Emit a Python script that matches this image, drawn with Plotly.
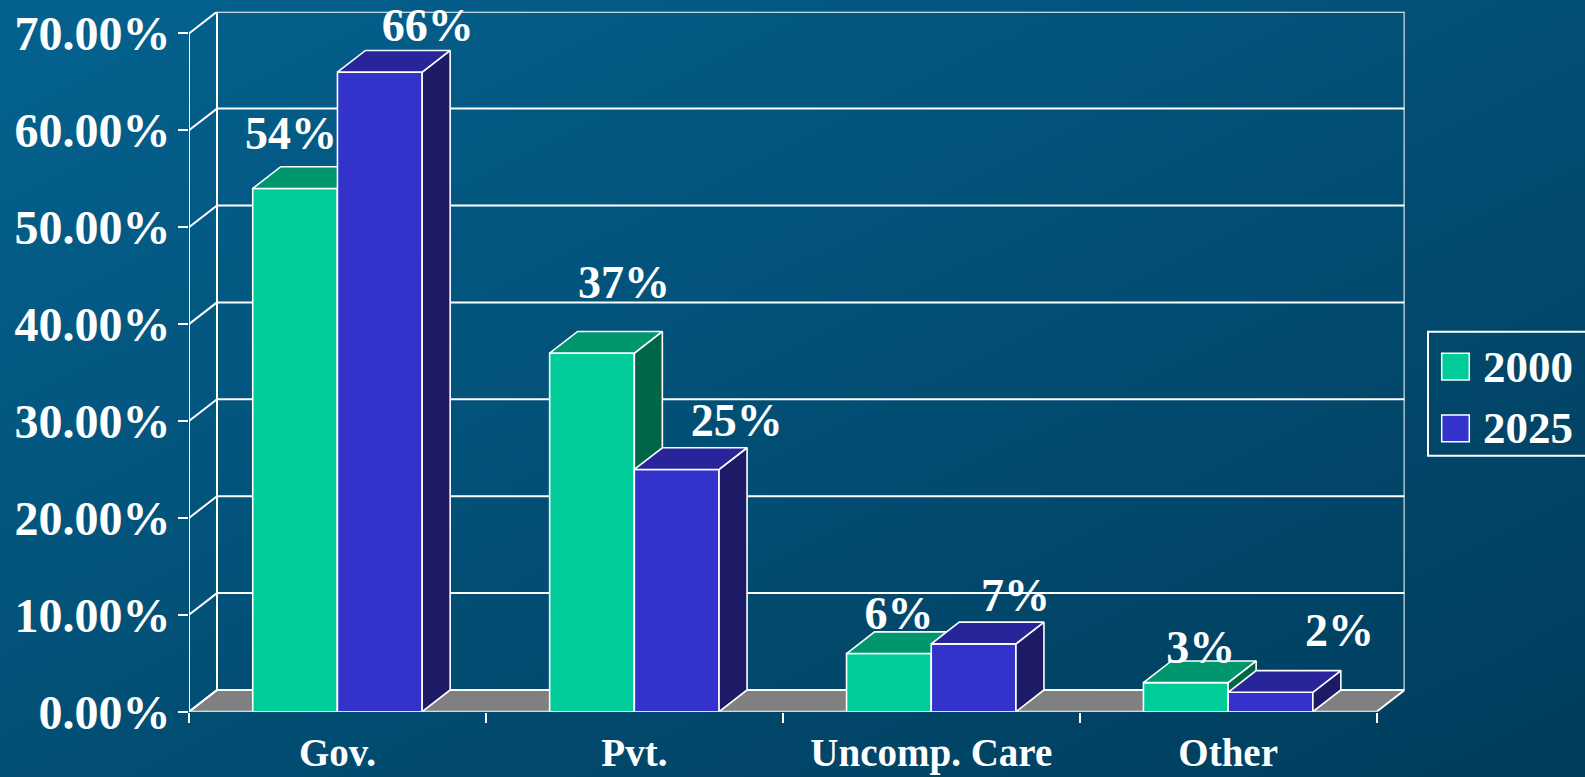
import base64
import plotly.graph_objects as go

# ---- data -------------------------------------------------------------
categories = ["Gov.", "Pvt.", "Uncomp. Care", "Other"]
years = ["2000", "2025"]
share_2000 = [54, 37, 6, 3]
share_2025 = [66, 25, 7, 2]
y_ticks = [0, 10, 20, 30, 40, 50, 60, 70]

# value-label nudges in pixels (right, down) from the top-centre of each bar front
nudge_2000 = [(-4, -51), (32, -67), (10, -36), (15, -31)]
nudge_2025 = [(48, -43), (60, -45), (42, -44), (69, -58)]

# ---- geometry ---------------------------------------------------------
W, H = 1585, 777
FRONT_LEFT_PX = 189.0      # front plane, left edge of the category axis
FRONT_BASE_PX = 711.7      # front plane, y = 0
PX_PER_CAT = 296.9
PX_PER_PCT = 9.69
DEPTH_X_PX, DEPTH_Y_PX = 28.0, 21.7

dx = DEPTH_X_PX / PX_PER_CAT          # depth offset in category units
dy = DEPTH_Y_PX / PX_PER_PCT          # depth offset in percent units
ymax = y_ticks[-1]
n = len(categories)
x_range = [-0.5, n - 0.5 + dx]
y_range = [0, ymax + dy]

x_dom = [FRONT_LEFT_PX / W, (FRONT_LEFT_PX + (x_range[1] - x_range[0]) * PX_PER_CAT) / W]
y_dom = [(H - FRONT_BASE_PX) / H, (H - FRONT_BASE_PX + (y_range[1] - y_range[0]) * PX_PER_PCT) / H]

bar_w = 0.2853  # width of one bar in category units

C2000 = dict(front="#00CC99", top="#00966E", side="#006647")
C2025 = dict(front="#3333CC", top="#28249A", side="#1D1A66")
FONT = "Liberation Serif, Times New Roman, serif"
EDGE = dict(color="white", width=1.6)

xs = list(range(n))


def faces(values, offset):
    """Top and right-side parallelograms of each bar (None-separated)."""
    tx, ty, sx, sy = [], [], [], []
    for i, v in enumerate(values):
        x0 = i + offset
        x1 = x0 + bar_w
        tx += [x0, x1, x1 + dx, x0 + dx, x0, None]
        ty += [v, v, v + dy, v + dy, v, None]
        sx += [x1, x1, x1 + dx, x1 + dx, x1, None]
        sy += [0, v, v + dy, dy, 0, None]
    return (tx, ty), (sx, sy)


def label_pos(values, offset, nudges):
    lx, ly = [], []
    for i, v in enumerate(values):
        cx = i + offset + bar_w / 2
        nx, ny = nudges[i]
        lx.append(cx + nx / PX_PER_CAT)
        ly.append(v - ny / PX_PER_PCT)
    return lx, ly


fig = go.Figure()

series = [
    ("2000", share_2000, -bar_w, C2000, nudge_2000, "x", "y"),
    ("2025", share_2025, 0.0, C2025, nudge_2025, "x2", "y2"),
]

for name, vals, off, col, nud, xa, ya in series:
    (tx, ty), (sx, sy) = faces(vals, off)
    fig.add_trace(go.Bar(
        x=xs, y=vals, width=bar_w, offset=off, name=name,
        marker=dict(color=col["front"], line=EDGE),
        xaxis=xa, yaxis=ya, showlegend=False, hoverinfo="skip",
    ))
    fig.add_trace(go.Scatter(
        x=sx, y=sy, mode="lines", fill="toself", fillcolor=col["side"],
        line=EDGE, xaxis=xa, yaxis=ya, showlegend=False, hoverinfo="skip",
    ))
    fig.add_trace(go.Scatter(
        x=tx, y=ty, mode="lines", fill="toself", fillcolor=col["top"],
        line=EDGE, xaxis=xa, yaxis=ya, showlegend=False, hoverinfo="skip",
    ))
    lx, ly = label_pos(vals, off, nud)
    fig.add_trace(go.Scatter(
        x=lx, y=ly, mode="text", text=[f"{v}%" for v in vals],
        textposition="middle center",
        textfont=dict(family=FONT, size=46, color="white", weight="bold"),
        xaxis=xa, yaxis=ya, showlegend=False, hoverinfo="skip",
        cliponaxis=False,
    ))

# ---- walls, floor and gridlines --------------------------------------
shapes = []
line_style = dict(color="white", width=2)
xl, xr = -0.5, n - 0.5
floor = (f"M {xl} 0 L {xr} 0 L {xr + dx} {dy} L {xl + dx} {dy} Z")
shapes.append(dict(type="path", path=floor, xref="x", yref="y",
                   fillcolor="#808080", line=line_style, layer="below"))
for v in y_ticks:
    shapes.append(dict(type="line", xref="x", yref="y", x0=xl + dx, x1=xr + dx,
                       y0=v + dy, y1=v + dy, line=line_style, layer="below"))
    shapes.append(dict(type="line", xref="x", yref="y", x0=xl, x1=xl + dx,
                       y0=v, y1=v + dy, line=line_style, layer="below"))
for xv in (xl + dx, xr + dx):
    shapes.append(dict(type="line", xref="x", yref="y", x0=xv, x1=xv,
                       y0=dy, y1=ymax + dy, line=line_style, layer="below"))
shapes.append(dict(type="line", xref="x", yref="y", x0=xl, x1=xl,
                   y0=0, y1=ymax, line=line_style, layer="below"))

# ---- legend box ------------------------------------------------------
def px_x(p):
    return p / W


def px_y(p):
    return 1 - p / H


shapes.append(dict(type="rect", xref="paper", yref="paper",
                   x0=px_x(1428), x1=px_x(1600), y0=px_y(455.7), y1=px_y(331.7),
                   line=dict(color="white", width=2), fillcolor="rgba(0,0,0,0)"))
legend_rows = [(years[0], C2000["front"], 353.3, 380.0), (years[1], C2025["front"], 415.0, 441.7)]
annotations = []
for label, colr, top, bot in legend_rows:
    shapes.append(dict(type="rect", xref="paper", yref="paper",
                       x0=px_x(1441.7), x1=px_x(1469.3), y0=px_y(bot), y1=px_y(top),
                       line=dict(color="white", width=1.5), fillcolor=colr))
    annotations.append(dict(xref="paper", yref="paper", x=px_x(1481), y=px_y((top + bot) / 2),
                            xanchor="left", yanchor="middle", showarrow=False, text=label,
                            font=dict(family=FONT, size=45, color="white", weight="bold")))

# ---- background gradient -----------------------------------------------
svg = (f'<svg xmlns="http://www.w3.org/2000/svg" width="{W}" height="{H}" '
       f'preserveAspectRatio="none"><defs><linearGradient id="g" x1="0" y1="0" x2="1" y2="1">'
       f'<stop offset="0" stop-color="#04628f"/><stop offset="1" stop-color="#003c5b"/>'
       f'</linearGradient></defs><rect width="100%" height="100%" fill="url(#g)"/></svg>')
bg_src = "data:image/svg+xml;base64," + base64.b64encode(svg.encode()).decode()

tick_font = dict(family=FONT, size=48, color="white", weight="bold")
cat_font = dict(family=FONT, size=39, color="white", weight="bold")

fig.update_layout(
    width=W, height=H, autosize=False,
    margin=dict(l=0, r=0, t=0, b=0, autoexpand=False),
    paper_bgcolor="#02527a", plot_bgcolor="rgba(0,0,0,0)",
    barmode="overlay",
    showlegend=False,
    shapes=shapes, annotations=annotations,
    images=[dict(source=bg_src, xref="paper", yref="paper", x=0, y=1,
                 sizex=1, sizey=1, sizing="stretch", layer="below",
                 xanchor="left", yanchor="top")],
    xaxis=dict(domain=x_dom, range=x_range, tickmode="array", tickvals=xs,
               ticktext=categories, ticks="", tickfont=cat_font, automargin=False,
               showgrid=False, zeroline=False, showline=False, fixedrange=True,
               ticklabelstandoff=14,
               minor=dict(tickmode="array", tickvals=[i - 0.5 for i in range(n + 1)],
                          ticks="outside", ticklen=10, tickwidth=2, tickcolor="white",
                          showgrid=False)),
    yaxis=dict(domain=y_dom, range=y_range, tickmode="array", tickvals=y_ticks,
               ticktext=[f"{v:.2f}%" for v in y_ticks], ticks="outside",
               ticklen=10, tickwidth=2, tickcolor="white", tickfont=tick_font,
               showgrid=False, zeroline=False, showline=False, fixedrange=True,
               automargin=False, ticklabelstandoff=-2),
    xaxis2=dict(domain=x_dom, range=x_range, overlaying="x", visible=False, fixedrange=True),
    yaxis2=dict(domain=y_dom, range=y_range, overlaying="y", visible=False, fixedrange=True),
)

fig.write_html("out.html", config={"displayModeBar": False})
